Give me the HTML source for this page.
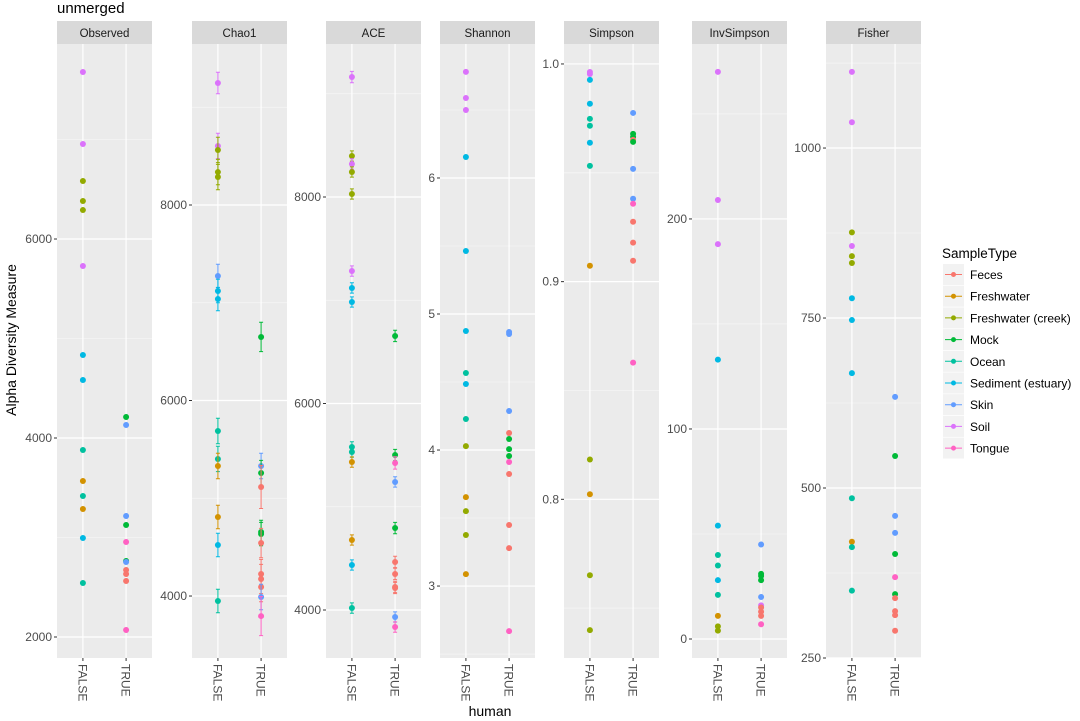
<!DOCTYPE html>
<html><head><meta charset="utf-8"><style>
html,body{margin:0;padding:0;background:#fff;}
svg{display:block;font-family:"Liberation Sans",Arial,sans-serif;}
</style></head><body>
<svg id="chart" width="1080" height="721" viewBox="0 0 1080 721">
<text x="57" y="13" font-size="15" fill="#000">unmerged</text>
<text transform="translate(16,340) rotate(-90)" text-anchor="middle" font-size="14" fill="#000">Alpha Diversity Measure</text>
<text x="490" y="716" text-anchor="middle" font-size="14" fill="#000">human</text>
</svg>
<script>
const sampleTypes = ["Feces","Freshwater","Freshwater (creek)","Mock","Ocean","Sediment (estuary)","Skin","Soil","Tongue"];
const typeColors = ["#F8766D","#D39200","#93AA00","#00BA38","#00C19F","#00B9E3","#619CFF","#DB72FB","#FF61C3"];
const humanLevels = ["FALSE","TRUE"];
const facetNames = ["Observed","Chao1","ACE","Shannon","Simpson","InvSimpson","Fisher"];

// Observed
const observedTypes = ["Soil","Soil","Freshwater (creek)","Freshwater (creek)","Freshwater (creek)","Soil","Sediment (estuary)","Sediment (estuary)","Ocean","Freshwater","Ocean","Freshwater","Sediment (estuary)","Ocean",
 "Mock","Skin","Skin","Mock","Tongue","Mock","Skin","Feces","Feces","Feces","Tongue"];
const observedHuman = [0,0,0,0,0,0,0,0,0,0,0,0,0,0, 1,1,1,1,1,1,1,1,1,1,1];
const observedValues = [7678,6955,6583,6382,6291,5729,4834,4583,3879,3568,3417,3286,2995,2543,
 4211,4131,3216,3126,2955,2764,2754,2673,2633,2563,2070];
const observedTicks = [2000,4000,6000];

// Chao1
const chao1Types = ["Soil","Soil","Freshwater (creek)","Freshwater (creek)","Freshwater (creek)","Skin","Sediment (estuary)","Sediment (estuary)","Ocean","Ocean","Freshwater","Freshwater","Sediment (estuary)","Ocean",
 "Mock","Skin","Mock","Feces","Mock","Mock","Feces","Feces","Feces","Feces","Skin","Tongue"];
const chao1Human = [0,0,0,0,0,0,0,0,0,0,0,0,0,0, 1,1,1,1,1,1,1,1,1,1,1,1];
const chao1Values = [9248,8604,8563,8337,8286,7274,7120,7038,5688,5402,5330,4808,4522,3949,
 6650,5330,5258,5115,4655,4634,4542,4225,4174,4092,3990,3795];
const chao1Se = [110,130,130,130,130,120,120,120,130,130,130,120,120,120,
 150,130,130,220,120,120,150,150,150,150,130,200];
const chao1Ticks = [4000,6000,8000];

// ACE
const aceTypes = ["Soil","Freshwater (creek)","Soil","Freshwater (creek)","Freshwater (creek)","Soil","Sediment (estuary)","Sediment (estuary)","Ocean","Ocean","Freshwater","Freshwater","Sediment (estuary)","Ocean",
 "Mock","Mock","Tongue","Skin","Mock","Feces","Feces","Feces","Feces","Skin","Tongue"];
const aceHuman = [0,0,0,0,0,0,0,0,0,0,0,0,0,0, 1,1,1,1,1,1,1,1,1,1,1];
const aceValues = [9162,8397,8320,8242,8029,7283,7119,6983,5579,5530,5433,4678,4436,4019,
 6654,5501,5424,5240,4794,4465,4349,4223,4213,3932,3835];
const aceSe = [55,50,50,50,50,50,50,50,50,50,50,50,50,50,
 55,55,60,50,55,55,55,55,55,50,50];
const aceTicks = [4000,6000,8000];

// Shannon
const shannonTypes = ["Soil","Soil","Soil","Sediment (estuary)","Sediment (estuary)","Sediment (estuary)","Ocean","Sediment (estuary)","Ocean","Freshwater (creek)","Freshwater","Freshwater (creek)","Freshwater (creek)","Freshwater",
 "Skin","Skin","Skin","Feces","Mock","Mock","Mock","Tongue","Feces","Feces","Feces","Tongue"];
const shannonHuman = [0,0,0,0,0,0,0,0,0,0,0,0,0,0, 1,1,1,1,1,1,1,1,1,1,1,1];
const shannonValues = [6.78,6.588,6.50,6.154,5.463,4.875,4.566,4.485,4.228,4.029,3.654,3.551,3.375,3.088,
 4.868,4.853,4.287,4.125,4.081,4.007,3.956,3.912,3.824,3.449,3.279,2.669];
const shannonTicks = [3,4,5,6];

// Simpson
const simpsonTypes = ["Soil","Soil","Sediment (estuary)","Sediment (estuary)","Ocean","Ocean","Sediment (estuary)","Ocean","Freshwater","Freshwater (creek)","Freshwater","Freshwater (creek)","Freshwater (creek)",
 "Skin","Mock","Mock","Feces","Mock","Skin","Skin","Tongue","Feces","Feces","Feces","Tongue"];
const simpsonHuman = [0,0,0,0,0,0,0,0,0,0,0,0,0, 1,1,1,1,1,1,1,1,1,1,1,1];
const simpsonValues = [0.9963,0.9954,0.9927,0.9817,0.9748,0.9716,0.9638,0.9532,0.9073,0.8183,0.8023,0.7651,0.7399,
 0.9775,0.9679,0.9665,0.9651,0.9642,0.9518,0.9381,0.9358,0.9275,0.9179,0.9096,0.8628];
const simpsonTicks = [0.8,0.9,1.0];

// InvSimpson
const invSimpsonTypes = ["Soil","Soil","Soil","Sediment (estuary)","Sediment (estuary)","Ocean","Ocean","Sediment (estuary)","Ocean","Freshwater","Freshwater (creek)","Freshwater (creek)",
 "Skin","Mock","Mock","Mock","Skin","Soil","Feces","Feces","Feces","Tongue"];
const invSimpsonHuman = [0,0,0,0,0,0,0,0,0,0,0,0, 1,1,1,1,1,1,1,1,1,1];
const invSimpsonValues = [270,209,188,133,54,40,35,28,21,11,6,4,
 45,31,30,28,20,16,15,13,11,7];
const invSimpsonTicks = [0,100,200];

// Fisher
const fisherTypes = ["Soil","Soil","Freshwater (creek)","Soil","Freshwater (creek)","Freshwater (creek)","Sediment (estuary)","Sediment (estuary)","Sediment (estuary)","Ocean","Freshwater","Ocean","Ocean",
 "Skin","Mock","Skin","Skin","Mock","Tongue","Mock","Feces","Feces","Feces","Feces"];
const fisherHuman = [0,0,0,0,0,0,0,0,0,0,0,0,0, 1,1,1,1,1,1,1,1,1,1,1];
const fisherValues = [1112,1038,876,856,841,831,779,747,669,485,421,413,349,
 634,547,459,434,403,369,344,338,319,313,290];
const fisherTicks = [250,500,750,1000];

const panelData = [
 {types:observedTypes, human:observedHuman, values:observedValues, se:null, ticks:observedTicks, domain:[1789,7960], fmt:v=>String(v)},
 {types:chao1Types, human:chao1Human, values:chao1Values, se:chao1Se, ticks:chao1Ticks, domain:[3366,9647], fmt:v=>String(v)},
 {types:aceTypes, human:aceHuman, values:aceValues, se:aceSe, ticks:aceTicks, domain:[3535,9482], fmt:v=>String(v)},
 {types:shannonTypes, human:shannonHuman, values:shannonValues, se:null, ticks:shannonTicks, domain:[2.471,6.985], fmt:v=>String(v)},
 {types:simpsonTypes, human:simpsonHuman, values:simpsonValues, se:null, ticks:simpsonTicks, domain:[0.7271,1.00917], fmt:v=>v.toFixed(1)},
 {types:invSimpsonTypes, human:invSimpsonHuman, values:invSimpsonValues, se:null, ticks:invSimpsonTicks, domain:[-9.05,283.3], fmt:v=>String(v)},
 {types:fisherTypes, human:fisherHuman, values:fisherValues, se:null, ticks:fisherTicks, domain:[250,1153], fmt:v=>String(v)}
];

const NS = "http://www.w3.org/2000/svg";
const svg = document.getElementById("chart");
function mk(tag, attrs, parent){
  const e = document.createElementNS(NS, tag);
  for (const k in attrs) e.setAttribute(k, attrs[k]);
  (parent||svg).appendChild(e);
  return e;
}
const panelLefts = [57,192,326,440,564,692,826];
const panelW = 95, panelTop = 44, panelBottom = 658, stripTop = 21;

facetNames.forEach((name, pi) => {
  const d = panelData[pi];
  const L = panelLefts[pi];
  const g = mk("g", {});
  
  
  const yScale = v => panelBottom - (v - d.domain[0]) / (d.domain[1] - d.domain[0]) * (panelBottom - panelTop);
  const xScale = h => L + panelW * (0.6 + h) / 2.2;
  const strip = mk("rect", {x:L, y:stripTop, width:panelW, height:panelTop-stripTop, fill:"#D9D9D9"}, g);
  
  
  const st = mk("text", {x:L+panelW/2, y:37, "text-anchor":"middle", "font-size":"11.5", fill:"#1A1A1A"}, g);
  st.textContent = name;
  
  
  const bg = mk("rect", {x:L, y:panelTop, width:panelW, height:panelBottom-panelTop, fill:"#EBEBEB"}, g);
  
  
  const t = d.ticks, step = t[1]-t[0];
  for (let v = t[0] - step/2; v <= d.domain[1]; v += step) {
    if (v < d.domain[0]) continue;
    const y = yScale(v);
    const ml = mk("line", {x1:L, x2:L+panelW, y1:y, y2:y, stroke:"#F5F5F5", "stroke-width":"0.8"}, g);
    
    
  }
  t.forEach(v => {
    const y = yScale(v);
    const gl = mk("line", {x1:L, x2:L+panelW, y1:y, y2:y, stroke:"#FFFFFF", "stroke-width":"1.2"}, g);
    
    
    const tk = mk("line", {x1:L-3, x2:L, y1:y, y2:y, stroke:"#333", "stroke-width":"1"}, g);
    
    
    const tl = mk("text", {x:L-5, y:y+4, "text-anchor":"end", "font-size":"12", fill:"#4D4D4D"}, g);
    tl.textContent = d.fmt(v);
    
    
  });
  humanLevels.forEach((lvl, h) => {
    const x = xScale(h);
    const vl = mk("line", {x1:x, x2:x, y1:panelTop, y2:panelBottom, stroke:"#FFFFFF", "stroke-width":"1.2"}, g);
    
    
    const tk = mk("line", {x1:x, x2:x, y1:panelBottom, y2:panelBottom+3, stroke:"#333", "stroke-width":"1"}, g);
    
    
    const xl = mk("text", {transform:"translate(" + (x-4.5) + "," + (panelBottom+6) + ") rotate(90)", "font-size":"12", fill:"#4D4D4D"}, g);
    xl.textContent = lvl;
    
    
  });
  d.values.forEach((v, i) => {
    const col = typeColors[sampleTypes.indexOf(d.types[i])];
    const x = xScale(d.human[i]), y = yScale(v);
    if (d.se) {
      const y1 = yScale(v + d.se[i]), y2 = yScale(v - d.se[i]);
      const eb = mk("path", {d:"M"+(x-2)+","+y1+"H"+(x+2)+"M"+x+","+y1+"V"+y2+"M"+(x-2)+","+y2+"H"+(x+2), stroke:col, "stroke-width":"1", fill:"none"}, g);
      
      
    }
    const c = mk("circle", {cx:x, cy:y, r:3, fill:col}, g);
    
    
  });
});

const lg = mk("g", {});


const lt = mk("text", {x:942, y:258, "font-size":"13.5", fill:"#000"}, lg);
lt.textContent = "SampleType";


sampleTypes.forEach((s, i) => {
  const y = 264 + i*21.7;
  const e = mk("g", {}, lg);
  
  
  mk("rect", {x:943, y:y, width:21, height:21, fill:"#F2F2F2"}, e);
  mk("line", {x1:945, x2:962, y1:y+10.5, y2:y+10.5, stroke:typeColors[i], "stroke-width":"1"}, e);
  mk("circle", {cx:953.5, cy:y+10.5, r:2.5, fill:typeColors[i]}, e);
  const tx = mk("text", {x:970, y:y+15, "font-size":"12", fill:"#000"}, e);
  tx.textContent = s;
});
</script>
</body></html>
